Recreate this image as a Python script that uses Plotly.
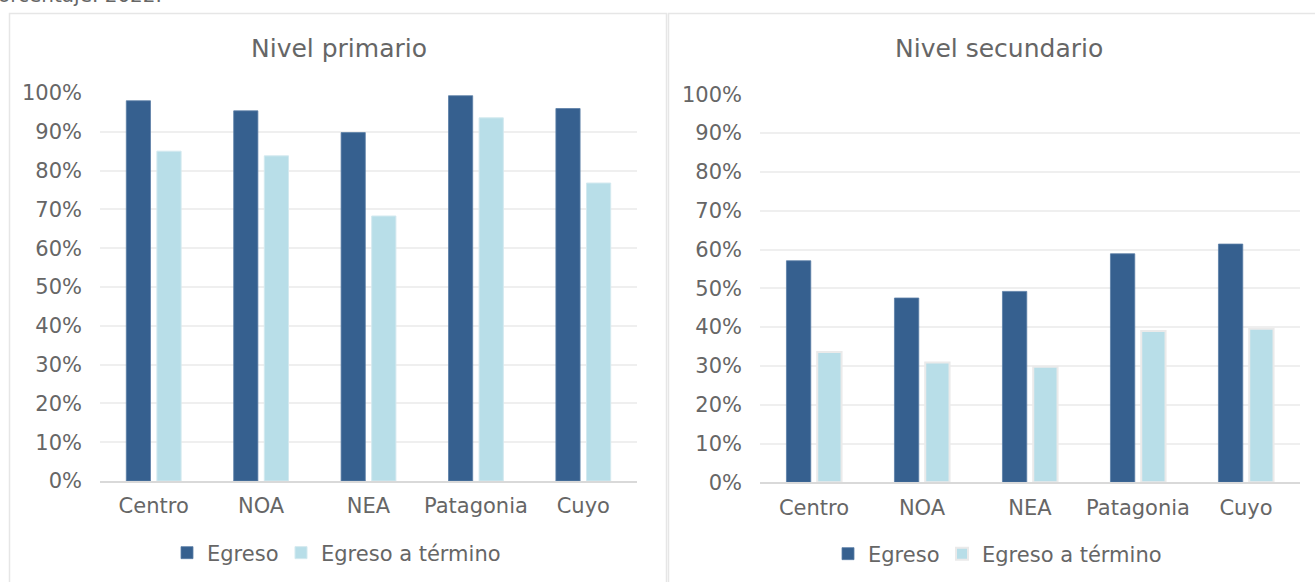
import plotly.graph_objects as go

# Regions and graduation rates (share of students), 2022
regiones = ["Centro", "NOA", "NEA", "Patagonia", "Cuyo"]
primario_egreso = [0.980, 0.954, 0.898, 0.993, 0.960]
primario_termino = [0.850, 0.838, 0.683, 0.936, 0.768]
secundario_egreso = [0.571, 0.475, 0.492, 0.589, 0.614]
secundario_termino = [0.336, 0.309, 0.298, 0.390, 0.396]
titulos = ["Nivel primario", "Nivel secundario"]
series = ["Egreso", "Egreso a término"]
pie = "orcentaje. 2022."

W, H = 1315, 582
AZUL = "#36608F"
CELESTE = "#B8DEE8"
TEXTO = "#666666"
FUENTE = "DejaVu Sans"


def px_x(v):
    return v / W


def px_y(v):
    return 1 - v / H


fig = go.Figure()

# one legend box per entry so each entry can be placed on its own
paneles = [
    ("x", "y", ("legend", "legend2"), primario_egreso, primario_termino, 1.0, "#D3E9EF"),
    ("x2", "y2", ("legend3", "legend4"), secundario_egreso, secundario_termino, 2.0, "#EAEAEA"),
]
for xa, ya, legs, egr, ter, borde, color_borde in paneles:
    fig.add_trace(go.Bar(
        x=regiones, y=egr, name=series[0], xaxis=xa, yaxis=ya, legend=legs[0],
        marker=dict(color=AZUL, line=dict(color="#5A7DA6", width=0.8)),
        hoverinfo="skip",
    ))
    fig.add_trace(go.Bar(
        x=regiones, y=ter, name=series[1], xaxis=xa, yaxis=ya, legend=legs[1],
        marker=dict(color=CELESTE, line=dict(color=color_borde, width=borde)),
        hoverinfo="skip",
    ))

eje_y = dict(
    range=[0, 1.0], dtick=0.1, tick0=0, tickformat=".0%",
    showgrid=True, gridcolor="#EFEFEF", gridwidth=1.5,
    zeroline=False, showline=False, ticks="", automargin=False,
    tickfont=dict(family=FUENTE, size=21, color=TEXTO),
    ticklabelstandoff=17, fixedrange=True,
)
eje_x = dict(
    showgrid=False, zeroline=False, showline=True,
    linecolor="#D9D9D9", linewidth=2, ticks="", automargin=False,
    tickfont=dict(family=FUENTE, size=21, color=TEXTO),
    ticklabelstandoff=5, fixedrange=True,
)


def leyenda(x, y):
    return dict(
        orientation="h", xanchor="left", yanchor="middle",
        x=px_x(x), y=px_y(y),
        font=dict(family=FUENTE, size=21, color=TEXTO),
        bgcolor="rgba(0,0,0,0)", itemclick=False, itemdoubleclick=False,
    )


fig.update_layout(
    width=W, height=H,
    margin=dict(l=0, r=0, t=0, b=0, autoexpand=False),
    paper_bgcolor="white", plot_bgcolor="white",
    barmode="group", bargap=0.43, bargroupgap=0.21,
    font=dict(family=FUENTE, color=TEXTO),
    xaxis=dict(domain=[px_x(100), px_x(637)], anchor="y", **eje_x),
    yaxis=dict(domain=[px_y(481), px_y(93)], anchor="x", **eje_y),
    xaxis2=dict(domain=[px_x(760), px_x(1300)], anchor="y2", **eje_x),
    yaxis2=dict(domain=[px_y(482.3), px_y(94.3)], anchor="x2", **eje_y),
    legend=leyenda(167, 553),
    legend2=leyenda(281, 553),
    legend3=leyenda(828, 554),
    legend4=leyenda(942, 554),
    showlegend=True,
)

# Panel frames
fig.add_shape(type="rect", xref="paper", yref="paper",
              x0=px_x(9.5), x1=px_x(666.5), y0=px_y(600), y1=px_y(13.5),
              line=dict(color="#E6E6E6", width=1.5), fillcolor="rgba(0,0,0,0)",
              layer="below")
fig.add_shape(type="rect", xref="paper", yref="paper",
              x0=px_x(668.5), x1=px_x(1330), y0=px_y(600), y1=px_y(13.5),
              line=dict(color="#E6E6E6", width=1.5), fillcolor="rgba(0,0,0,0)",
              layer="below")

# Panel titles
for texto, cx in zip(titulos, [339, 999]):
    fig.add_annotation(text=texto, xref="paper", yref="paper",
                       x=px_x(cx), y=px_y(48), xanchor="center", yanchor="middle",
                       showarrow=False,
                       font=dict(family=FUENTE, size=25, color=TEXTO))

# Caption running off the top edge
fig.add_annotation(text=pie, xref="paper", yref="paper",
                   x=px_x(-4), y=px_y(9), xanchor="left", yanchor="bottom",
                   showarrow=False,
                   font=dict(family=FUENTE, size=20, color=TEXTO))

fig.write_html("out.html", config={"displayModeBar": False})
